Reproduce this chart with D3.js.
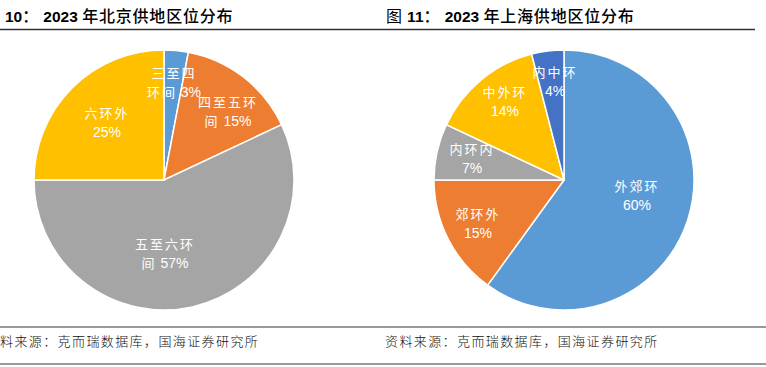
<!DOCTYPE html>
<html><head><meta charset="utf-8">
<script src="https://cdn.jsdelivr.net/npm/d3@7"></script>
<style>
html,body{margin:0;padding:0;background:#fff;}
svg{display:block;}
</style></head>
<body>
<svg id="c" width="766" height="367"></svg>
<script>
// ---- data ----
const bjCategories = ["三至四环间", "四至五环间", "五至六环间", "六环外"];
const bjLabelLines = [["三至四", "环间 3%"], ["四至五环", "间 15%"], ["五至六环", "间 57%"], ["六环外", "25%"]];
const bjValues = [3, 15, 57, 25];
const shCategories = ["外郊环", "郊环外", "内环内", "中外环", "内中环"];
const shLabelLines = [["外郊环", "60%"], ["郊环外", "15%"], ["内环内", "7%"], ["中外环", "14%"], ["内中环", "4%"]];
const shValues = [60, 15, 7, 14, 4];
const bjTitle = "10： 2023 年北京供地区位分布";
const shTitle = "图 11： 2023 年上海供地区位分布";
const sourceText = "资料来源：克而瑞数据库，国海证券研究所";

// ---- layout / style ----
const bjColors = ["#5B9BD5", "#ED7D31", "#A5A5A5", "#FFC000"];
const shColors = ["#5B9BD5", "#ED7D31", "#A5A5A5", "#FFC000", "#4472C4"];
const bjLabelOffsets = [[10, -98], [64, -69], [1, 73], [-57, -58]];
const shLabelOffsets = [[73, 15], [-86, 43], [-92, -22], [-59, -79], [-9, -99]];

const svg = d3.select("#c");
const CJK = "'Noto Sans CJK SC', 'Noto Sans', sans-serif";
const LAT = "'Liberation Sans', Arial, sans-serif";

function drawPie(cx, cy, r, values, cats, colors, lines, offsets) {
  const g = svg.append("g").attr("transform", `translate(${cx},${cy})`);
  const pie = d3.pie().sort(null).value(d => d)(values);
  const arc = d3.arc().innerRadius(0).outerRadius(r);
  g.selectAll("path").data(pie).join("path")
    .attr("d", arc)
    .attr("fill", (d, i) => colors[i])
    .attr("stroke", "#fff").attr("stroke-width", 1.5);
  const lab = g.selectAll("text").data(pie).join("text")
    .attr("fill", "#fff")
    .attr("text-anchor", "middle")
    .attr("font-size", 13);
  lab.each(function(d, i) {
    const t = d3.select(this);
    const [ox, oy] = offsets[i];
    lines[i].forEach((ln, k) => {
      const ts = t.append("tspan").attr("x", ox).attr("y", oy + (k === 0 ? -9.5 : 9.5) + 5);
      const parts = ln.match(/[\u4e00-\u9fff]+|[^\u4e00-\u9fff]+/g);
      parts.forEach(p => {
        const isC = /[\u4e00-\u9fff]/.test(p);
        ts.append("tspan").attr("font-family", isC ? CJK : LAT)
          .attr("letter-spacing", isC ? 2 : 0)
          .attr("font-size", isC ? 13 : 14)
          .text(p);
      });
    });
  });
}

drawPie(164, 180, 130, bjValues, bjCategories, bjColors, bjLabelLines, bjLabelOffsets);
drawPie(564, 180, 130, shValues, shCategories, shColors, shLabelLines, shLabelOffsets);

// titles
function title(x, txt) {
  const t = svg.append("text").attr("x", x).attr("y", 22).attr("fill", "#000");
  const parts = txt.match(/[\u4e00-\u9fff：]+|[^\u4e00-\u9fff：]+/g);
  parts.forEach(p => {
    const isC = /[\u4e00-\u9fff：]/.test(p);
    t.append("tspan").attr("font-family", isC ? CJK : LAT)
      .attr("font-size", isC ? 16 : 15.5)
      .attr("font-weight", isC ? (p === "图" ? 400 : 500) : 700)
      .attr("letter-spacing", isC ? 0.8 : 0)
      .text(p);
  });
}
title(5, bjTitle);
title(386, shTitle);

// rules
svg.append("line").attr("x1", 0).attr("x2", 755).attr("y1", 29.5).attr("y2", 29.5).attr("stroke", "#333").attr("stroke-width", 1.5);
svg.append("line").attr("x1", 0).attr("x2", 766).attr("y1", 327).attr("y2", 327).attr("stroke", "#777").attr("stroke-width", 1.5);
svg.append("line").attr("x1", 0).attr("x2", 766).attr("y1", 364).attr("y2", 364).attr("stroke", "#777").attr("stroke-width", 1.5);

// sources
function src(x, txt) {
  svg.append("text").attr("x", x).attr("y", 346).attr("font-family", CJK).attr("font-size", 13)
    .attr("letter-spacing", 1.4).attr("font-weight", 300).attr("fill", "#111").text(txt);
}
src(0, sourceText.slice(1));
src(385, sourceText);
</script>
</body></html>
